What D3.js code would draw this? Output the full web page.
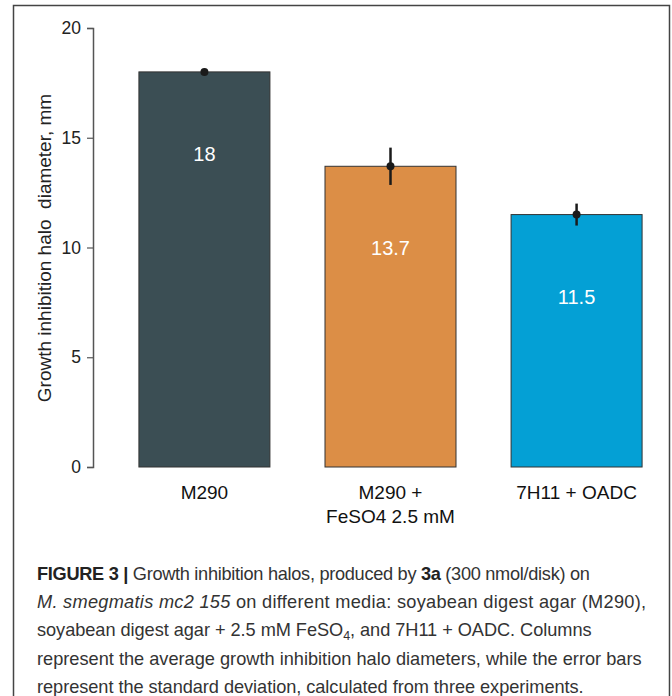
<!DOCTYPE html>
<html lang="en">
<head>
<meta charset="UTF-8">
<title>Figure 3</title>
<script src="https://d3js.org/d3.v7.min.js"></script>
<style>
  body { margin: 0; background: #fff; }
  svg text { font-family: "Liberation Sans", Arial, sans-serif; }
</style>
</head>
<body>
<svg width="672" height="696"></svg>
<script>
// data
const categories = ["M290", "M290 +\nFeSO4 2.5 mM", "7H11 + OADC"];
const means = [18, 13.7, 11.5];
const sds = [0, 0.85, 0.5];
const valueLabels = ["18", "13.7", "11.5"];
const barColors = ["#3b4e54", "#dc8e46", "#04a0d5"];
const yTicks = [0, 5, 10, 15, 20];

const svg = d3.select("svg");

// outer frame
svg.append("path")
  .attr("d", "M13.5,696 V5.5 H669.5 V696")
  .attr("fill", "none")
  .attr("stroke", "#444")
  .attr("stroke-width", 1.5);

const y = d3.scaleLinear().domain([0, 20]).range([467, 28]);
const x = d3.scaleBand().domain(categories).range([111, 670])
  .paddingInner(0.296).paddingOuter(0.15);

// y axis
const yAxis = svg.append("g")
  .attr("transform", "translate(93,0)")
  .call(d3.axisLeft(y).tickValues(yTicks).tickSize(6).tickPadding(6));
yAxis.select(".domain").attr("stroke", "#555").attr("stroke-width", 1.5);
yAxis.selectAll(".tick line").attr("stroke", "#555").attr("stroke-width", 1.2);
yAxis.selectAll(".tick text").attr("font-size", 17.5).attr("fill", "#222");

svg.append("text")
  .attr("transform", "translate(51,248) rotate(-90)")
  .attr("text-anchor", "middle")
  .attr("font-size", 19)
  .attr("fill", "#222")
  .attr("xml:space", "preserve")
  .text("Growth inhibition halo  diameter, mm");

// bars
const bars = svg.append("g");
categories.forEach((c, i) => {
  bars.append("rect")
    .attr("x", x(c))
    .attr("y", y(means[i]))
    .attr("width", x.bandwidth())
    .attr("height", y(0) - y(means[i]))
    .attr("fill", barColors[i])
    .attr("stroke", "#333")
    .attr("stroke-width", 1);

  bars.append("text")
    .attr("x", x(c) + x.bandwidth() / 2)
    .attr("y", y(means[i]) + 89)
    .attr("text-anchor", "middle")
    .attr("font-size", 20)
    .attr("fill", "#fff")
    .text(valueLabels[i]);

  const cx = x(c) + x.bandwidth() / 2;
  if (sds[i] > 0) {
    bars.append("line")
      .attr("x1", cx).attr("x2", cx)
      .attr("y1", y(means[i] + sds[i]))
      .attr("y2", y(means[i] - sds[i]))
      .attr("stroke", "#1a1a1a")
      .attr("stroke-width", 2.5);
  }
  bars.append("circle")
    .attr("cx", cx).attr("cy", y(means[i]))
    .attr("r", 4)
    .attr("fill", "#1a1a1a");

  // category label
  const lines = c.split("\n");
  const t = svg.append("text")
    .attr("text-anchor", "middle")
    .attr("font-size", 19)
    .attr("fill", "#111");
  lines.forEach((l, j) => {
    t.append("tspan")
      .attr("x", cx)
      .attr("y", 499 + j * 24)
      .text(l);
  });
});

// caption; small letter-spacing tweaks so line widths follow the figure
const capSpacing = [-0.3, 0.28, -0.05, 0, -0.05];
const capLines = [
  [["FIGURE 3 | ", "b"], ["Growth inhibition halos, produced by ", ""], ["3a", "b"], [" (300 nmol/disk) on", ""]],
  [["M. smegmatis mc2 155", "i"], [" on different media: soyabean digest agar (M290),", ""]],
  [["soyabean digest agar + 2.5 mM FeSO", ""], ["4", "sub"], [", and 7H11 + OADC. Columns", ""]],
  [["represent the average growth inhibition halo diameters, while the error bars", ""]],
  [["represent the standard deviation, calculated from three experiments.", ""]]
];
capLines.forEach((parts, li) => {
  const t = svg.append("text")
    .attr("x", 37)
    .attr("y", 580 + li * 28.2)
    .attr("font-size", 18.2)
    .attr("fill", "#333")
    .attr("letter-spacing", capSpacing[li]);
  parts.forEach((p, pi) => {
    const s = t.append("tspan").text(p[0]);
    if (p[1] === "b") s.attr("font-weight", "bold").attr("fill", "#222");
    if (p[1] === "i") s.attr("font-style", "italic");
    if (p[1] === "sub") { s.attr("font-size", 12.5).attr("dy", 4); }
    if (pi > 0 && parts[pi - 1][1] === "sub") s.attr("dy", -4);
  });
});
</script>
</body>
</html>
